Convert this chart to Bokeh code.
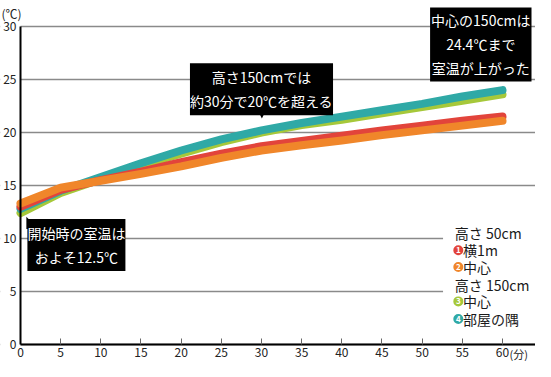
from bokeh.plotting import figure
from bokeh.models import Label, BoxAnnotation, FixedTicker, Range1d
from bokeh.core.properties import value
from bokeh.embed import file_html
from bokeh.resources import INLINE

# ---- data ----
minutes = [0, 5, 10, 15, 20, 25, 30, 35, 40, 45, 50, 55, 60]
edge_50 = [13.0, 14.6, 15.5, 16.3, 17.2, 18.0, 18.7, 19.2, 19.7, 20.2, 20.65, 21.1, 21.5]     # 高さ50cm 横1m
center_50 = [13.3, 14.8, 15.45, 16.1, 16.8, 17.6, 18.3, 18.8, 19.25, 19.75, 20.2, 20.65, 21.1]  # 高さ50cm 中心
center_150 = [12.4, 14.3, 15.6, 16.9, 18.0, 19.1, 20.0, 20.7, 21.2, 21.8, 22.4, 23.0, 23.6]   # 高さ150cm 中心
corner_150 = [12.8, 14.5, 15.8, 17.1, 18.3, 19.35, 20.2, 20.9, 21.5, 22.1, 22.7, 23.4, 24.0]  # 高さ150cm 部屋の隅
y_ticks = [0, 5, 10, 15, 20, 25, 30]

legend_titles = ["高さ 50cm", "高さ 150cm"]
legend_items = ["横1m", "中心", "中心", "部屋の隅"]
legend_nums = ["1", "2", "3", "4"]

RED = "#e2443b"
ORANGE = "#f0862a"
GREEN = "#a6c83a"
TEAL = "#2fa9a6"
colors = [RED, ORANGE, GREEN, TEAL]

FONT = "Noto Sans CJK JP"

X0, X1 = -2.49, 64.11
Y0, Y1 = -1.60, 32.45

p = figure(width=535, height=361, x_range=Range1d(X0, X1), y_range=Range1d(Y0, Y1),
           output_backend="svg", toolbar_location=None,
           min_border_top=0, min_border_right=0, min_border_left=0, min_border_bottom=0)
p.outline_line_color = None
p.background_fill_color = "white"
p.xgrid.visible = False
p.ygrid.ticker = FixedTicker(ticks=y_ticks)
p.ygrid.bounds = (-1, 31)
p.ygrid.grid_line_color = "#8a8a8a"
p.ygrid.grid_line_width = 1.5

yax = p.yaxis[0]
yax.fixed_location = 0
yax.bounds = (0, 30)
yax.ticker = FixedTicker(ticks=y_ticks)
yax.axis_line_color = "black"
yax.axis_line_width = 2
yax.major_tick_in = 0
yax.major_tick_out = 0
yax.minor_tick_line_color = None
yax.major_label_standoff = 4
yax.major_label_text_font = FONT
yax.major_label_text_font_size = "12px"
yax.major_label_text_color = "#222222"

xax = p.xaxis[0]
xax.fixed_location = 0
xax.bounds = (0, X1)
xax.ticker = FixedTicker(ticks=minutes)
xax.axis_line_color = "black"
xax.axis_line_width = 2
xax.major_tick_in = 6
xax.major_tick_out = 0
xax.major_tick_line_color = "#666666"
xax.major_tick_line_width = 1
xax.minor_tick_line_color = None
xax.major_label_standoff = 3
xax.major_label_text_font = FONT
xax.major_label_text_font_size = "12px"
xax.major_label_text_color = "#222222"

# white cover left of the y axis (grid lines start at the axis)
p.add_layout(BoxAnnotation(right=0, fill_color="white", fill_alpha=1, line_color=None, level="underlay"))
# legend background
p.add_layout(BoxAnnotation(left=52.6, bottom=0.93, top=11.48, fill_color="white",
                           fill_alpha=1, line_color=None, level="underlay"))

# ---- lines ----
for ys, c in [(center_150, GREEN), (corner_150, TEAL), (edge_50, RED), (center_50, ORANGE)]:
    p.line(minutes, ys, line_color=c, line_width=8, line_cap="round", line_join="round")

# ---- unit labels ----
p.add_layout(Label(x=X0, y=31.23, x_offset=1, text="(℃)", text_font=FONT,
                   text_font_size="12px", text_color="#222222", text_baseline="middle", text_align="left"))
p.add_layout(Label(x=60, y=-0.9, x_offset=7, text="(分)", text_font=FONT,
                   text_font_size="11px", text_color="#222222", text_baseline="middle", text_align="left"))

# ---- callouts ----
def callout(x, y, text, pad):
    p.add_layout(Label(x=x, y=y, text=text, text_font=FONT, text_font_size="14px",
                       text_color="white", text_align="center", text_baseline="middle",
                       background_fill_color="black", padding=pad, text_line_height=1.2))

callout(57.3, 28.3, "中心の150cmは\n24.4℃まで\n室温が上がった", (1, 3))
callout(30.0, 24.07, "高さ150cmでは\n約30分で20℃を超える", (0, 4))
callout(6.96, 9.40, "開始時の室温は\nおよそ12.5℃", (0, 4))

p.patches(xs=[[56.8, 58.2, 57.5], [29.3, 30.8, 30.05], [0.73, 0.73, 2.21]],
          ys=[[26.0, 26.0, 25.05], [22.45, 22.45, 21.32], [12.06, 10.9, 10.9]],
          fill_color="black", line_color=None)

# ---- legend ----
row_y = [10.56, 8.89, 7.31, 5.65, 4.07, 2.41]
title_rows = [0, 3]
item_rows = [1, 2, 4, 5]
for t, r in zip(legend_titles, title_rows):
    p.add_layout(Label(x=54.07, y=row_y[r], text=t, text_font=FONT, text_font_size="14px",
                       text_color="#1a1a1a", text_baseline="middle", text_align="left"))
cy = [row_y[r] for r in item_rows]
p.scatter([54.5] * 4, cy, size=10, marker="circle", fill_color=colors, line_color=None)
p.text([54.5] * 4, cy, text=legend_nums, text_color="white", text_font=value(FONT),
       text_font_size="8px", text_align="center", text_baseline="middle", text_font_style="bold")
for t, yy in zip(legend_items, cy):
    p.add_layout(Label(x=55.1, y=yy, text=t, text_font=FONT, text_font_size="14px",
                       text_color="#1a1a1a", text_baseline="middle", text_align="left"))

open("out.html", "w").write(file_html(p, INLINE))
